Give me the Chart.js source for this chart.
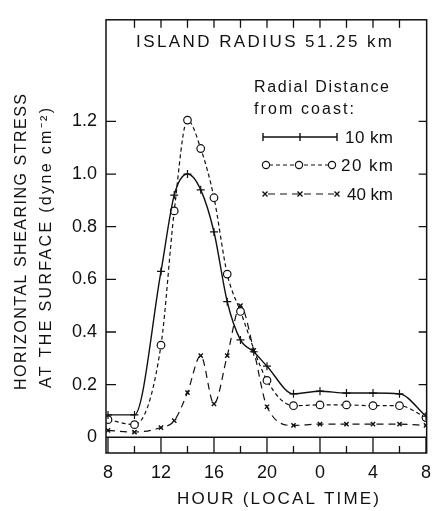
<!DOCTYPE html>
<html>
<head>
<meta charset="utf-8">
<script src="https://cdn.jsdelivr.net/npm/chart.js@4.4.1/dist/chart.umd.min.js"></script>
<style>
  html, body { margin: 0; padding: 0; background: #fff; }
  #wrap { width: 440px; height: 511px; position: relative; }
</style>
</head>
<body>
<div id="wrap"><canvas id="c" width="440" height="511"></canvas></div>
<script>
// ---- Data ----
const hours10 = [8, 10, 12, 13, 14, 15, 16, 17, 18, 19, 20, 22, 24, 26, 28, 30, 32];
const stress10 = [0.085, 0.085, 0.63, 0.92, 1.0, 0.94, 0.78, 0.515, 0.37, 0.325, 0.27, 0.165, 0.175, 0.168, 0.168, 0.165, 0.08];

const hours20 = [8, 10, 12, 13, 14, 15, 16, 17, 18, 20, 22, 24, 26, 28, 30, 32];
const stress20 = [0.067, 0.048, 0.35, 0.86, 1.205, 1.097, 0.91, 0.62, 0.478, 0.216, 0.12, 0.123, 0.123, 0.12, 0.12, 0.075];

const hours40 = [8, 10, 12, 13, 14, 15, 16, 17, 18, 19, 20, 22, 24, 26, 28, 30, 32];
const stress40 = [0.026, 0.02, 0.037, 0.063, 0.17, 0.31, 0.127, 0.31, 0.5, 0.33, 0.116, 0.045, 0.05, 0.05, 0.05, 0.05, 0.045];

const xTickValues = [8, 12, 16, 20, 24, 28, 32];
const xTickLabels = ['8', '12', '16', '20', '0', '4', '8'];
const yTickValues = [0, 0.2, 0.4, 0.6, 0.8, 1.0, 1.2];
const yTickLabels = ['0', '0.2', '0.4', '0.6', '0.8', '1.0', '1.2'];

const seriesNames = ['10 km', '20 km', '40 km'];
const chartTitle = 'ISLAND RADIUS 51.25 km';
const legendTitle = ['Radial Distance', 'from coast:'];
const yTitle = ['HORIZONTAL SHEARING STRESS', 'AT THE SURFACE (dyne cm\u207B\u00B2)'];
const xTitle = 'HOUR (LOCAL TIME)';

const INK = '#111';
const FONT = '"Liberation Sans", Arial, sans-serif';

function pts(xs, ys) { return xs.map((x, i) => ({ x: x, y: ys[i] })); }

function spacedText(ctx, text, x, y, width, align) {
  ctx.save();
  ctx.letterSpacing = '0px';
  const w = ctx.measureText(text).width;
  const n = [...text].length;
  const s = n > 1 ? (width - w) / (n - 1) : 0;
  ctx.letterSpacing = s + 'px';
  ctx.textAlign = 'left';
  let x0 = x;
  if (align === 'center') x0 = x - width / 2;
  else if (align === 'right') x0 = x - width;
  ctx.fillText(text, x0, y);
  ctx.restore();
}

const framePlugin = {
  id: 'frame',
  afterDraw(chart) {
    const ctx = chart.ctx;
    const ca = chart.chartArea;
    const xs = chart.scales.x, ys = chart.scales.y;
    ctx.save();
    ctx.strokeStyle = INK;
    ctx.fillStyle = INK;
    ctx.lineWidth = 1.5;
    ctx.setLineDash([]);
    // frame
    ctx.strokeRect(ca.left, ca.top, ca.right - ca.left, ca.bottom - ca.top);
    // zero line
    const y0 = ys.getPixelForValue(0);
    ctx.beginPath();
    ctx.moveTo(ca.left, y0); ctx.lineTo(ca.right, y0);
    ctx.stroke();
    // bottom tick box ticks
    ctx.lineWidth = 1.3;
    for (let h = 8; h <= 32; h += 2) {
      const x = xs.getPixelForValue(h);
      ctx.beginPath();
      if ((h - 8) % 4 === 0) { ctx.moveTo(x, y0); ctx.lineTo(x, ca.bottom); }
      else { ctx.moveTo(x, ca.bottom - 7); ctx.lineTo(x, ca.bottom); }
      ctx.stroke();
    }
    // top ticks
    for (let h = 10; h <= 30; h += 2) {
      const x = xs.getPixelForValue(h);
      ctx.beginPath();
      ctx.moveTo(x, ca.top); ctx.lineTo(x, ca.top + 8);
      ctx.stroke();
    }
    // left / right ticks
    yTickValues.forEach(v => {
      if (v === 0) return;
      const y = ys.getPixelForValue(v);
      ctx.beginPath();
      ctx.moveTo(ca.left, y); ctx.lineTo(ca.left + 10, y);
      ctx.moveTo(ca.right - 8, y); ctx.lineTo(ca.right, y);
      ctx.stroke();
    });

    // Title inside plot
    ctx.textBaseline = 'middle';
    ctx.font = '17px ' + FONT;
    spacedText(ctx, chartTitle, 136, 42, 256, 'left');

    // Legend header
    ctx.font = '16px ' + FONT;
    spacedText(ctx, legendTitle[0], 254, 88, 135, 'left');
    spacedText(ctx, legendTitle[1], 254, 110, 100, 'left');

    // Legend rows
    const ds = chart.data.datasets;
    const rows = [137, 165, 194];
    ctx.font = '17px ' + FONT;
    // 10 km
    ctx.lineWidth = 1.4;
    ctx.setLineDash([]);
    ctx.beginPath();
    ctx.moveTo(263, rows[0]); ctx.lineTo(337, rows[0]);
    ctx.moveTo(263, rows[0] - 4); ctx.lineTo(263, rows[0] + 4);
    ctx.moveTo(337, rows[0] - 4); ctx.lineTo(337, rows[0] + 4);
    ctx.moveTo(300, rows[0] - 4); ctx.lineTo(300, rows[0] + 4);
    ctx.stroke();
    spacedText(ctx, seriesNames[0], 345, rows[0] + 1, 48, 'left');
    // 20 km
    ctx.lineWidth = 1.2;
    ctx.setLineDash(ds[1].borderDash);
    ctx.beginPath();
    ctx.moveTo(269, rows[1]); ctx.lineTo(329, rows[1]);
    ctx.stroke();
    ctx.setLineDash([]);
    [266, 299, 332].forEach(x => {
      ctx.beginPath();
      ctx.arc(x, rows[1], 3.6, 0, Math.PI * 2);
      ctx.fillStyle = '#fff'; ctx.fill();
      ctx.stroke();
    });
    ctx.fillStyle = INK;
    spacedText(ctx, seriesNames[1], 341, rows[1] + 1, 52, 'left');
    // 40 km
    ctx.setLineDash(ds[2].borderDash);
    ctx.beginPath();
    ctx.moveTo(268, rows[2]); ctx.lineTo(334, rows[2]);
    ctx.stroke();
    ctx.setLineDash([]);
    ctx.lineWidth = 1.4;
    [265, 300, 337].forEach(x => {
      ctx.beginPath();
      ctx.moveTo(x - 2.5, rows[2] - 2.5); ctx.lineTo(x + 2.5, rows[2] + 2.5);
      ctx.moveTo(x + 2.5, rows[2] - 2.5); ctx.lineTo(x - 2.5, rows[2] + 2.5);
      ctx.stroke();
    });
    spacedText(ctx, seriesNames[2], 347, rows[2] + 1, 46, 'left');

    // Y axis title (rotated)
    ctx.font = '16px ' + FONT;
    ctx.save();
    ctx.translate(22, 242);
    ctx.rotate(-Math.PI / 2);
    spacedText(ctx, yTitle[0], 0, 0, 296, 'center');
    ctx.restore();
    ctx.save();
    ctx.translate(47, 248);
    ctx.rotate(-Math.PI / 2);
    spacedText(ctx, yTitle[1], 0, 0, 280, 'center');
    ctx.restore();

    // X axis title
    ctx.font = '17px ' + FONT;
    spacedText(ctx, xTitle, 278, 499, 202, 'center');

    ctx.restore();
  }
};

const chart = new Chart(document.getElementById('c'), {
  type: 'line',
  data: {
    datasets: [
      {
        label: seriesNames[0],
        data: pts(hours10, stress10),
        borderColor: INK, borderWidth: 1.4,
        pointStyle: 'cross', pointRadius: 4, pointBorderWidth: 1.2,
        pointBorderColor: INK, pointBackgroundColor: INK,
        cubicInterpolationMode: 'monotone', fill: false
      },
      {
        label: seriesNames[1],
        data: pts(hours20, stress20),
        borderColor: INK, borderWidth: 1.2, borderDash: [4, 3],
        pointStyle: 'circle', pointRadius: 3.8, pointBorderWidth: 1.2,
        pointBorderColor: INK, pointBackgroundColor: '#fff',
        cubicInterpolationMode: 'monotone', fill: false
      },
      {
        label: seriesNames[2],
        data: pts(hours40, stress40),
        borderColor: INK, borderWidth: 1.2, borderDash: [7, 5],
        pointStyle: 'crossRot', pointRadius: 3, pointBorderWidth: 1.4,
        pointBorderColor: INK, pointBackgroundColor: INK,
        cubicInterpolationMode: 'monotone', fill: false
      }
    ]
  },
  options: {
    responsive: false,
    animation: false,
    devicePixelRatio: 1,
    layout: { padding: { left: 0, right: 4, top: 12, bottom: 0 } },
    plugins: { legend: { display: false }, tooltip: { enabled: false }, title: { display: false } },
    scales: {
      x: {
        type: 'linear', min: 7.85, max: 32.05,
        grid: { display: false, drawTicks: false },
        border: { display: false },
        afterBuildTicks: s => { s.ticks = xTickValues.map(v => ({ value: v })); },
        afterFit: s => { s.height = 58; },
        ticks: {
          autoSkip: false, maxRotation: 0, padding: 9, color: INK,
          font: { family: FONT, size: 18 },
          callback: v => { const i = xTickValues.indexOf(v); return i >= 0 ? xTickLabels[i] : ''; }
        }
      },
      y: {
        type: 'linear', min: -0.0597, max: 1.586,
        grid: { display: false, drawTicks: false },
        border: { display: false },
        afterBuildTicks: s => { s.ticks = yTickValues.map(v => ({ value: v })); },
        afterFit: s => { s.width = 106; },
        ticks: {
          autoSkip: false, padding: 9, color: INK,
          font: { family: FONT, size: 18 },
          callback: v => {
            let i = yTickValues.findIndex(t => Math.abs(t - v) < 1e-9);
            return i >= 0 ? yTickLabels[i] : '';
          }
        }
      }
    }
  },
  plugins: [framePlugin]
});
</script>
</body>
</html>
